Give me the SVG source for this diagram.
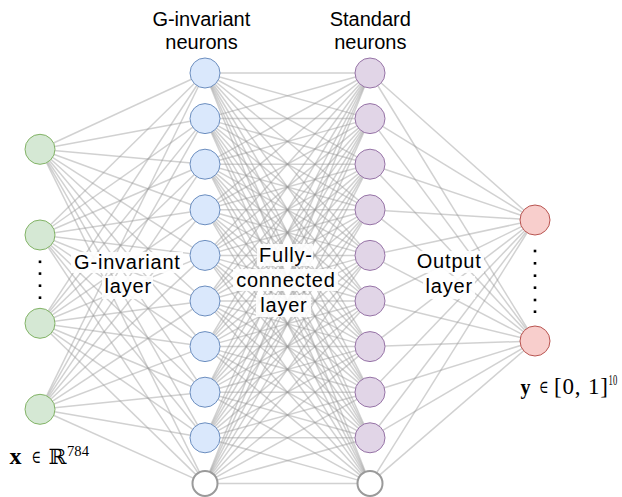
<svg xmlns="http://www.w3.org/2000/svg" width="622" height="497" viewBox="0 0 622 497">
<style>
.e{stroke:#999;stroke-opacity:0.45;stroke-width:1.5;fill:none}
.g{fill:#d5e8d4;stroke:#82b366;stroke-width:1}
.b{fill:#dae8fc;stroke:#6c8ebf;stroke-width:1}
.p{fill:#e1d5e7;stroke:#9673a6;stroke-width:1}
.r{fill:#f8cecc;stroke:#b85450;stroke-width:1}
.w{fill:#ffffff;stroke:#9a9a9a;stroke-width:2}
.t{font-family:"Liberation Sans",Helvetica,Arial,sans-serif;font-size:20px;fill:#000;text-anchor:middle}
.tm{letter-spacing:0.8px}
.bg{fill:#ffffff;fill-opacity:0.9}
.m{font-family:"Liberation Serif","DejaVu Serif",serif;fill:#000}
.el{font-family:"DejaVu Serif",serif;fill:#000}
.d{fill:#000}
</style>
<rect width="622" height="497" fill="#ffffff"/>
<g id="connectors">
<line class="e" x1="40" y1="149.3" x2="205" y2="73"/><line class="e" x1="40" y1="149.3" x2="205" y2="118.6"/><line class="e" x1="40" y1="149.3" x2="205" y2="164.2"/><line class="e" x1="40" y1="149.3" x2="205" y2="209.8"/><line class="e" x1="40" y1="149.3" x2="205" y2="255.4"/><line class="e" x1="40" y1="149.3" x2="205" y2="301"/><line class="e" x1="40" y1="149.3" x2="205" y2="346.6"/><line class="e" x1="40" y1="149.3" x2="205" y2="392.2"/><line class="e" x1="40" y1="149.3" x2="205" y2="437.8"/><line class="e" x1="40" y1="149.3" x2="205" y2="483.4"/>
<line class="e" x1="40" y1="235" x2="205" y2="73"/><line class="e" x1="40" y1="235" x2="205" y2="118.6"/><line class="e" x1="40" y1="235" x2="205" y2="164.2"/><line class="e" x1="40" y1="235" x2="205" y2="209.8"/><line class="e" x1="40" y1="235" x2="205" y2="255.4"/><line class="e" x1="40" y1="235" x2="205" y2="301"/><line class="e" x1="40" y1="235" x2="205" y2="346.6"/><line class="e" x1="40" y1="235" x2="205" y2="392.2"/><line class="e" x1="40" y1="235" x2="205" y2="437.8"/><line class="e" x1="40" y1="235" x2="205" y2="483.4"/>
<line class="e" x1="40" y1="323.3" x2="205" y2="73"/><line class="e" x1="40" y1="323.3" x2="205" y2="118.6"/><line class="e" x1="40" y1="323.3" x2="205" y2="164.2"/><line class="e" x1="40" y1="323.3" x2="205" y2="209.8"/><line class="e" x1="40" y1="323.3" x2="205" y2="255.4"/><line class="e" x1="40" y1="323.3" x2="205" y2="301"/><line class="e" x1="40" y1="323.3" x2="205" y2="346.6"/><line class="e" x1="40" y1="323.3" x2="205" y2="392.2"/><line class="e" x1="40" y1="323.3" x2="205" y2="437.8"/><line class="e" x1="40" y1="323.3" x2="205" y2="483.4"/>
<line class="e" x1="40" y1="409.3" x2="205" y2="73"/><line class="e" x1="40" y1="409.3" x2="205" y2="118.6"/><line class="e" x1="40" y1="409.3" x2="205" y2="164.2"/><line class="e" x1="40" y1="409.3" x2="205" y2="209.8"/><line class="e" x1="40" y1="409.3" x2="205" y2="255.4"/><line class="e" x1="40" y1="409.3" x2="205" y2="301"/><line class="e" x1="40" y1="409.3" x2="205" y2="346.6"/><line class="e" x1="40" y1="409.3" x2="205" y2="392.2"/><line class="e" x1="40" y1="409.3" x2="205" y2="437.8"/><line class="e" x1="40" y1="409.3" x2="205" y2="483.4"/>
<line class="e" x1="205" y1="73" x2="370" y2="73"/><line class="e" x1="205" y1="73" x2="370" y2="118.6"/><line class="e" x1="205" y1="73" x2="370" y2="164.2"/><line class="e" x1="205" y1="73" x2="370" y2="209.8"/><line class="e" x1="205" y1="73" x2="370" y2="255.4"/><line class="e" x1="205" y1="73" x2="370" y2="301"/><line class="e" x1="205" y1="73" x2="370" y2="346.6"/><line class="e" x1="205" y1="73" x2="370" y2="392.2"/><line class="e" x1="205" y1="73" x2="370" y2="437.8"/><line class="e" x1="205" y1="73" x2="370" y2="483.4"/>
<line class="e" x1="205" y1="118.6" x2="370" y2="73"/><line class="e" x1="205" y1="118.6" x2="370" y2="118.6"/><line class="e" x1="205" y1="118.6" x2="370" y2="164.2"/><line class="e" x1="205" y1="118.6" x2="370" y2="209.8"/><line class="e" x1="205" y1="118.6" x2="370" y2="255.4"/><line class="e" x1="205" y1="118.6" x2="370" y2="301"/><line class="e" x1="205" y1="118.6" x2="370" y2="346.6"/><line class="e" x1="205" y1="118.6" x2="370" y2="392.2"/><line class="e" x1="205" y1="118.6" x2="370" y2="437.8"/><line class="e" x1="205" y1="118.6" x2="370" y2="483.4"/>
<line class="e" x1="205" y1="164.2" x2="370" y2="73"/><line class="e" x1="205" y1="164.2" x2="370" y2="118.6"/><line class="e" x1="205" y1="164.2" x2="370" y2="164.2"/><line class="e" x1="205" y1="164.2" x2="370" y2="209.8"/><line class="e" x1="205" y1="164.2" x2="370" y2="255.4"/><line class="e" x1="205" y1="164.2" x2="370" y2="301"/><line class="e" x1="205" y1="164.2" x2="370" y2="346.6"/><line class="e" x1="205" y1="164.2" x2="370" y2="392.2"/><line class="e" x1="205" y1="164.2" x2="370" y2="437.8"/><line class="e" x1="205" y1="164.2" x2="370" y2="483.4"/>
<line class="e" x1="205" y1="209.8" x2="370" y2="73"/><line class="e" x1="205" y1="209.8" x2="370" y2="118.6"/><line class="e" x1="205" y1="209.8" x2="370" y2="164.2"/><line class="e" x1="205" y1="209.8" x2="370" y2="209.8"/><line class="e" x1="205" y1="209.8" x2="370" y2="255.4"/><line class="e" x1="205" y1="209.8" x2="370" y2="301"/><line class="e" x1="205" y1="209.8" x2="370" y2="346.6"/><line class="e" x1="205" y1="209.8" x2="370" y2="392.2"/><line class="e" x1="205" y1="209.8" x2="370" y2="437.8"/><line class="e" x1="205" y1="209.8" x2="370" y2="483.4"/>
<line class="e" x1="205" y1="255.4" x2="370" y2="73"/><line class="e" x1="205" y1="255.4" x2="370" y2="118.6"/><line class="e" x1="205" y1="255.4" x2="370" y2="164.2"/><line class="e" x1="205" y1="255.4" x2="370" y2="209.8"/><line class="e" x1="205" y1="255.4" x2="370" y2="255.4"/><line class="e" x1="205" y1="255.4" x2="370" y2="301"/><line class="e" x1="205" y1="255.4" x2="370" y2="346.6"/><line class="e" x1="205" y1="255.4" x2="370" y2="392.2"/><line class="e" x1="205" y1="255.4" x2="370" y2="437.8"/><line class="e" x1="205" y1="255.4" x2="370" y2="483.4"/>
<line class="e" x1="205" y1="301" x2="370" y2="73"/><line class="e" x1="205" y1="301" x2="370" y2="118.6"/><line class="e" x1="205" y1="301" x2="370" y2="164.2"/><line class="e" x1="205" y1="301" x2="370" y2="209.8"/><line class="e" x1="205" y1="301" x2="370" y2="255.4"/><line class="e" x1="205" y1="301" x2="370" y2="301"/><line class="e" x1="205" y1="301" x2="370" y2="346.6"/><line class="e" x1="205" y1="301" x2="370" y2="392.2"/><line class="e" x1="205" y1="301" x2="370" y2="437.8"/><line class="e" x1="205" y1="301" x2="370" y2="483.4"/>
<line class="e" x1="205" y1="346.6" x2="370" y2="73"/><line class="e" x1="205" y1="346.6" x2="370" y2="118.6"/><line class="e" x1="205" y1="346.6" x2="370" y2="164.2"/><line class="e" x1="205" y1="346.6" x2="370" y2="209.8"/><line class="e" x1="205" y1="346.6" x2="370" y2="255.4"/><line class="e" x1="205" y1="346.6" x2="370" y2="301"/><line class="e" x1="205" y1="346.6" x2="370" y2="346.6"/><line class="e" x1="205" y1="346.6" x2="370" y2="392.2"/><line class="e" x1="205" y1="346.6" x2="370" y2="437.8"/><line class="e" x1="205" y1="346.6" x2="370" y2="483.4"/>
<line class="e" x1="205" y1="392.2" x2="370" y2="73"/><line class="e" x1="205" y1="392.2" x2="370" y2="118.6"/><line class="e" x1="205" y1="392.2" x2="370" y2="164.2"/><line class="e" x1="205" y1="392.2" x2="370" y2="209.8"/><line class="e" x1="205" y1="392.2" x2="370" y2="255.4"/><line class="e" x1="205" y1="392.2" x2="370" y2="301"/><line class="e" x1="205" y1="392.2" x2="370" y2="346.6"/><line class="e" x1="205" y1="392.2" x2="370" y2="392.2"/><line class="e" x1="205" y1="392.2" x2="370" y2="437.8"/><line class="e" x1="205" y1="392.2" x2="370" y2="483.4"/>
<line class="e" x1="205" y1="437.8" x2="370" y2="73"/><line class="e" x1="205" y1="437.8" x2="370" y2="118.6"/><line class="e" x1="205" y1="437.8" x2="370" y2="164.2"/><line class="e" x1="205" y1="437.8" x2="370" y2="209.8"/><line class="e" x1="205" y1="437.8" x2="370" y2="255.4"/><line class="e" x1="205" y1="437.8" x2="370" y2="301"/><line class="e" x1="205" y1="437.8" x2="370" y2="346.6"/><line class="e" x1="205" y1="437.8" x2="370" y2="392.2"/><line class="e" x1="205" y1="437.8" x2="370" y2="437.8"/><line class="e" x1="205" y1="437.8" x2="370" y2="483.4"/>
<line class="e" x1="205" y1="483.4" x2="370" y2="73"/><line class="e" x1="205" y1="483.4" x2="370" y2="118.6"/><line class="e" x1="205" y1="483.4" x2="370" y2="164.2"/><line class="e" x1="205" y1="483.4" x2="370" y2="209.8"/><line class="e" x1="205" y1="483.4" x2="370" y2="255.4"/><line class="e" x1="205" y1="483.4" x2="370" y2="301"/><line class="e" x1="205" y1="483.4" x2="370" y2="346.6"/><line class="e" x1="205" y1="483.4" x2="370" y2="392.2"/><line class="e" x1="205" y1="483.4" x2="370" y2="437.8"/><line class="e" x1="205" y1="483.4" x2="370" y2="483.4"/>
<line class="e" x1="370" y1="73" x2="535" y2="220"/><line class="e" x1="370" y1="118.6" x2="535" y2="220"/><line class="e" x1="370" y1="164.2" x2="535" y2="220"/><line class="e" x1="370" y1="209.8" x2="535" y2="220"/><line class="e" x1="370" y1="255.4" x2="535" y2="220"/><line class="e" x1="370" y1="301" x2="535" y2="220"/><line class="e" x1="370" y1="346.6" x2="535" y2="220"/><line class="e" x1="370" y1="392.2" x2="535" y2="220"/><line class="e" x1="370" y1="437.8" x2="535" y2="220"/><line class="e" x1="370" y1="483.4" x2="535" y2="220"/>
<line class="e" x1="370" y1="73" x2="535" y2="341"/><line class="e" x1="370" y1="118.6" x2="535" y2="341"/><line class="e" x1="370" y1="164.2" x2="535" y2="341"/><line class="e" x1="370" y1="209.8" x2="535" y2="341"/><line class="e" x1="370" y1="255.4" x2="535" y2="341"/><line class="e" x1="370" y1="301" x2="535" y2="341"/><line class="e" x1="370" y1="346.6" x2="535" y2="341"/><line class="e" x1="370" y1="392.2" x2="535" y2="341"/><line class="e" x1="370" y1="437.8" x2="535" y2="341"/><line class="e" x1="370" y1="483.4" x2="535" y2="341"/>
</g>
<g id="input-layer">
<circle id="in1" class="g" cx="40" cy="149.3" r="15"/>
<circle id="in2" class="g" cx="40" cy="235" r="15"/>
<circle id="in3" class="g" cx="40" cy="323.3" r="15"/>
<circle id="in4" class="g" cx="40" cy="409.3" r="15"/>
<g id="in-dots" class="d"><rect x="38.7" y="260.5" width="2.6" height="2.6"/><rect x="38.7" y="272.3" width="2.6" height="2.6"/><rect x="38.7" y="284.4" width="2.6" height="2.6"/><rect x="38.7" y="296.4" width="2.6" height="2.6"/></g>
</g>
<g id="ginv-layer">
<circle id="b1" class="b" cx="205" cy="73" r="15"/>
<circle id="b2" class="b" cx="205" cy="118.6" r="15"/>
<circle id="b3" class="b" cx="205" cy="164.2" r="15"/>
<circle id="b4" class="b" cx="205" cy="209.8" r="15"/>
<circle id="b5" class="b" cx="205" cy="255.4" r="15"/>
<circle id="b6" class="b" cx="205" cy="301" r="15"/>
<circle id="b7" class="b" cx="205" cy="346.6" r="15"/>
<circle id="b8" class="b" cx="205" cy="392.2" r="15"/>
<circle id="b9" class="b" cx="205" cy="437.8" r="15"/>
<circle id="bbias" class="w" cx="205" cy="483.4" r="12.5"/>
</g>
<g id="std-layer">
<circle id="p1" class="p" cx="370" cy="73" r="15"/>
<circle id="p2" class="p" cx="370" cy="118.6" r="15"/>
<circle id="p3" class="p" cx="370" cy="164.2" r="15"/>
<circle id="p4" class="p" cx="370" cy="209.8" r="15"/>
<circle id="p5" class="p" cx="370" cy="255.4" r="15"/>
<circle id="p6" class="p" cx="370" cy="301" r="15"/>
<circle id="p7" class="p" cx="370" cy="346.6" r="15"/>
<circle id="p8" class="p" cx="370" cy="392.2" r="15"/>
<circle id="p9" class="p" cx="370" cy="437.8" r="15"/>
<circle id="pbias" class="w" cx="370" cy="483.4" r="12.5"/>
</g>
<g id="output-layer">
<circle id="o1" class="r" cx="535" cy="220" r="15"/>
<circle id="o2" class="r" cx="535" cy="341" r="15"/>
<g id="out-dots" class="d"><rect x="533.7" y="249.7" width="2.6" height="2.6"/><rect x="533.7" y="262" width="2.6" height="2.6"/><rect x="533.7" y="274.4" width="2.6" height="2.6"/><rect x="533.7" y="286.4" width="2.6" height="2.6"/><rect x="533.7" y="298.7" width="2.6" height="2.6"/><rect x="533.7" y="310.4" width="2.6" height="2.6"/></g>
</g>
<g id="label-ginv-neurons">
<rect class="bg" x="151" y="10" width="101" height="44"/>
<text class="t" x="201.3" y="26">G-invariant</text>
<text class="t" x="201.5" y="49.3">neurons</text>
</g>
<g id="label-std-neurons">
<rect class="bg" x="329" y="10" width="83" height="44"/>
<text class="t" x="370.3" y="25.7">Standard</text>
<text class="t" x="370.3" y="49">neurons</text>
</g>
<g id="label-ginv-layer">
<rect class="bg" x="71" y="252" width="112" height="21"/>
<rect class="bg" x="102" y="276" width="51" height="23"/>
<text class="t tm" x="127.4" y="269">G-invariant</text>
<text class="t tm" x="128.2" y="293.3">layer</text>
</g>
<g id="label-fc-layer">
<rect class="bg" x="257" y="244" width="56" height="22"/>
<rect class="bg" x="233" y="269" width="105" height="22"/>
<rect class="bg" x="256" y="295" width="55" height="22"/>
<text class="t tm" x="285.8" y="261.7">Fully-</text>
<text class="t tm" x="285.9" y="286.7">connected</text>
<text class="t tm" x="283.9" y="311.7">layer</text>
</g>
<g id="label-output-layer">
<rect class="bg" x="414" y="251" width="70" height="22"/>
<rect class="bg" x="423" y="276" width="52" height="23"/>
<text class="t tm" x="449.2" y="268.3">Output</text>
<text class="t tm" x="449.2" y="293.3">layer</text>
</g>
<g id="label-x">
<text class="m" x="9.5" y="463.5" font-size="23" font-weight="bold" textLength="12" lengthAdjust="spacingAndGlyphs">x</text>
<text class="el" x="31.5" y="463" font-size="18" textLength="9.5" lengthAdjust="spacingAndGlyphs">∈</text>
<text class="el" x="48.5" y="463.5" font-size="21" textLength="18" lengthAdjust="spacingAndGlyphs">ℝ</text>
<text class="m" x="67" y="455.5" font-size="15" textLength="22" lengthAdjust="spacingAndGlyphs">784</text>
</g>
<g id="label-y">
<text class="m" x="520.5" y="393.5" font-size="21" font-weight="bold" textLength="10" lengthAdjust="spacingAndGlyphs">y</text>
<text class="el" x="539" y="393" font-size="18" textLength="9.5" lengthAdjust="spacingAndGlyphs">∈</text>
<text class="m" x="554" y="393.5" font-size="23" textLength="54" lengthAdjust="spacing">[0, 1]</text>
<text class="m" x="608.6" y="385.3" font-size="14" textLength="8.6" lengthAdjust="spacingAndGlyphs">10</text>
</g>
</svg>
